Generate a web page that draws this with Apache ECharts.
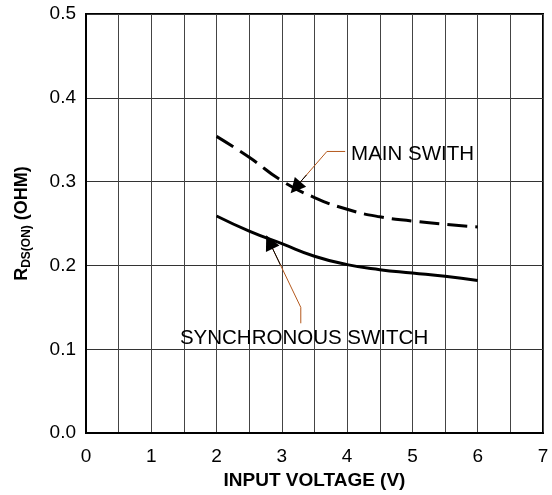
<!DOCTYPE html>
<html><head><meta charset="utf-8">
<script src="https://cdn.jsdelivr.net/npm/echarts@6/dist/echarts.min.js"></script>
<style>html,body{margin:0;padding:0;background:#fff}#c{width:552px;height:495px}</style>
</head><body><div id="c"></div>
<script>
var voltages = [2, 2.5, 3, 3.5, 4, 4.5, 5, 5.5, 6];
var mainSwitch = [0.354, 0.329, 0.301, 0.281, 0.267, 0.258, 0.253, 0.249, 0.246];
var syncSwitch = [0.259, 0.241, 0.226, 0.211, 0.201, 0.195, 0.191, 0.187, 0.182];
var xTicks = [0, 1, 2, 3, 4, 5, 6, 7];
var yTicks = [0.0, 0.1, 0.2, 0.3, 0.4, 0.5];
var mainLabel = 'MAIN SWITH';
var syncLabel = 'SYNCHRONOUS SWITCH';
var mainLabelPos = [4.06, 0.333];
var syncLabelPos = [3.34, 0.1135];
var mainLeader = [[3.97, 0.336], [3.69, 0.336], [3.21, 0.293]];
var syncLeader = [[3.29, 0.131], [3.29, 0.150], [2.81, 0.228]];

function pairs(xs, ys) { return xs.map(function (x, i) { return [x, ys[i]]; }); }
function arrowSeg(pts) {
  var a = pts[pts.length - 2], b = pts[pts.length - 1];
  var t = 0.35;
  return [[b[0] + (a[0] - b[0]) * t, b[1] + (a[1] - b[1]) * t], b];
}
var FONT = 'Liberation Sans, Arial, sans-serif';
var chart = echarts.init(document.getElementById('c'));
chart.setOption({
  animation: false,
  grid: { left: 86, right: 9, top: 14, bottom: 60, show: true, borderColor: '#000', borderWidth: 2, backgroundColor: 'transparent' },
  xAxis: {
    type: 'value', min: xTicks[0], max: xTicks[xTicks.length - 1], interval: 1,
    name: 'INPUT VOLTAGE (V)', nameLocation: 'middle', nameGap: 36,
    nameTextStyle: { fontFamily: FONT, fontSize: 19, fontWeight: 'bold', color: '#000' },
    axisLine: { show: true, lineStyle: { color: '#000', width: 2 } },
    axisTick: { show: false },
    axisLabel: { margin: 14, fontFamily: FONT, fontSize: 19, color: '#000' },
    splitLine: { show: true, lineStyle: { color: '#444', width: 1 } },
    minorTick: { show: false, splitNumber: 2 },
    minorSplitLine: { show: true, lineStyle: { color: '#444', width: 1 } }
  },
  yAxis: {
    type: 'value', min: yTicks[0], max: yTicks[yTicks.length - 1], interval: 0.1,
    name: '{r|R}{s|DS(ON)}{r| (OHM)}', nameLocation: 'middle', nameGap: 55, nameRotate: 90,
    nameTextStyle: {
      rich: {
        r: { fontFamily: FONT, fontSize: 18, fontWeight: 'bold', color: '#000', lineHeight: 21, verticalAlign: 'bottom' },
        s: { fontFamily: FONT, fontSize: 12, fontWeight: 'bold', color: '#000', lineHeight: 15, verticalAlign: 'bottom', padding: [0, 0, -2, 0] }
      }
    },
    axisLine: { show: true, lineStyle: { color: '#000', width: 2 } },
    axisTick: { show: false },
    axisLabel: { margin: 10, fontFamily: FONT, fontSize: 19, color: '#000', formatter: function (v) { return v.toFixed(1); } },
    splitLine: { show: true, lineStyle: { color: '#333', width: 1 } }
  },
  series: [
    { type: 'line', data: pairs(voltages, mainSwitch), smooth: true, symbol: 'none',
      lineStyle: { color: '#000', width: 3, type: [20, 8] }, z: 5 },
    { type: 'line', data: pairs(voltages, syncSwitch), smooth: true, symbol: 'none',
      lineStyle: { color: '#000', width: 3 }, z: 5 },
    { type: 'lines', coordinateSystem: 'cartesian2d', polyline: true, symbol: 'none',
      data: [{ coords: mainLeader }, { coords: syncLeader }],
      lineStyle: { color: '#b4581c', width: 1, opacity: 1 }, z: 6 },
    { type: 'lines', coordinateSystem: 'cartesian2d', symbol: ['none', 'triangle'], symbolSize: [9, 15],
      data: [{ coords: arrowSeg(mainLeader) }, { coords: arrowSeg(syncLeader) }],
      lineStyle: { color: '#000', width: 1, opacity: 1 }, z: 7 },
    { type: 'scatter', symbolSize: 0, z: 8, itemStyle: { opacity: 1, color: '#000' },
      data: [
        { value: mainLabelPos, label: { show: true, formatter: mainLabel, position: 'right', distance: 0 } },
        { value: syncLabelPos, label: { show: true, formatter: syncLabel, position: 'inside' } }
      ],
      label: { fontFamily: FONT, fontSize: 20.5, color: '#000' } }
  ]
});
</script></body></html>
